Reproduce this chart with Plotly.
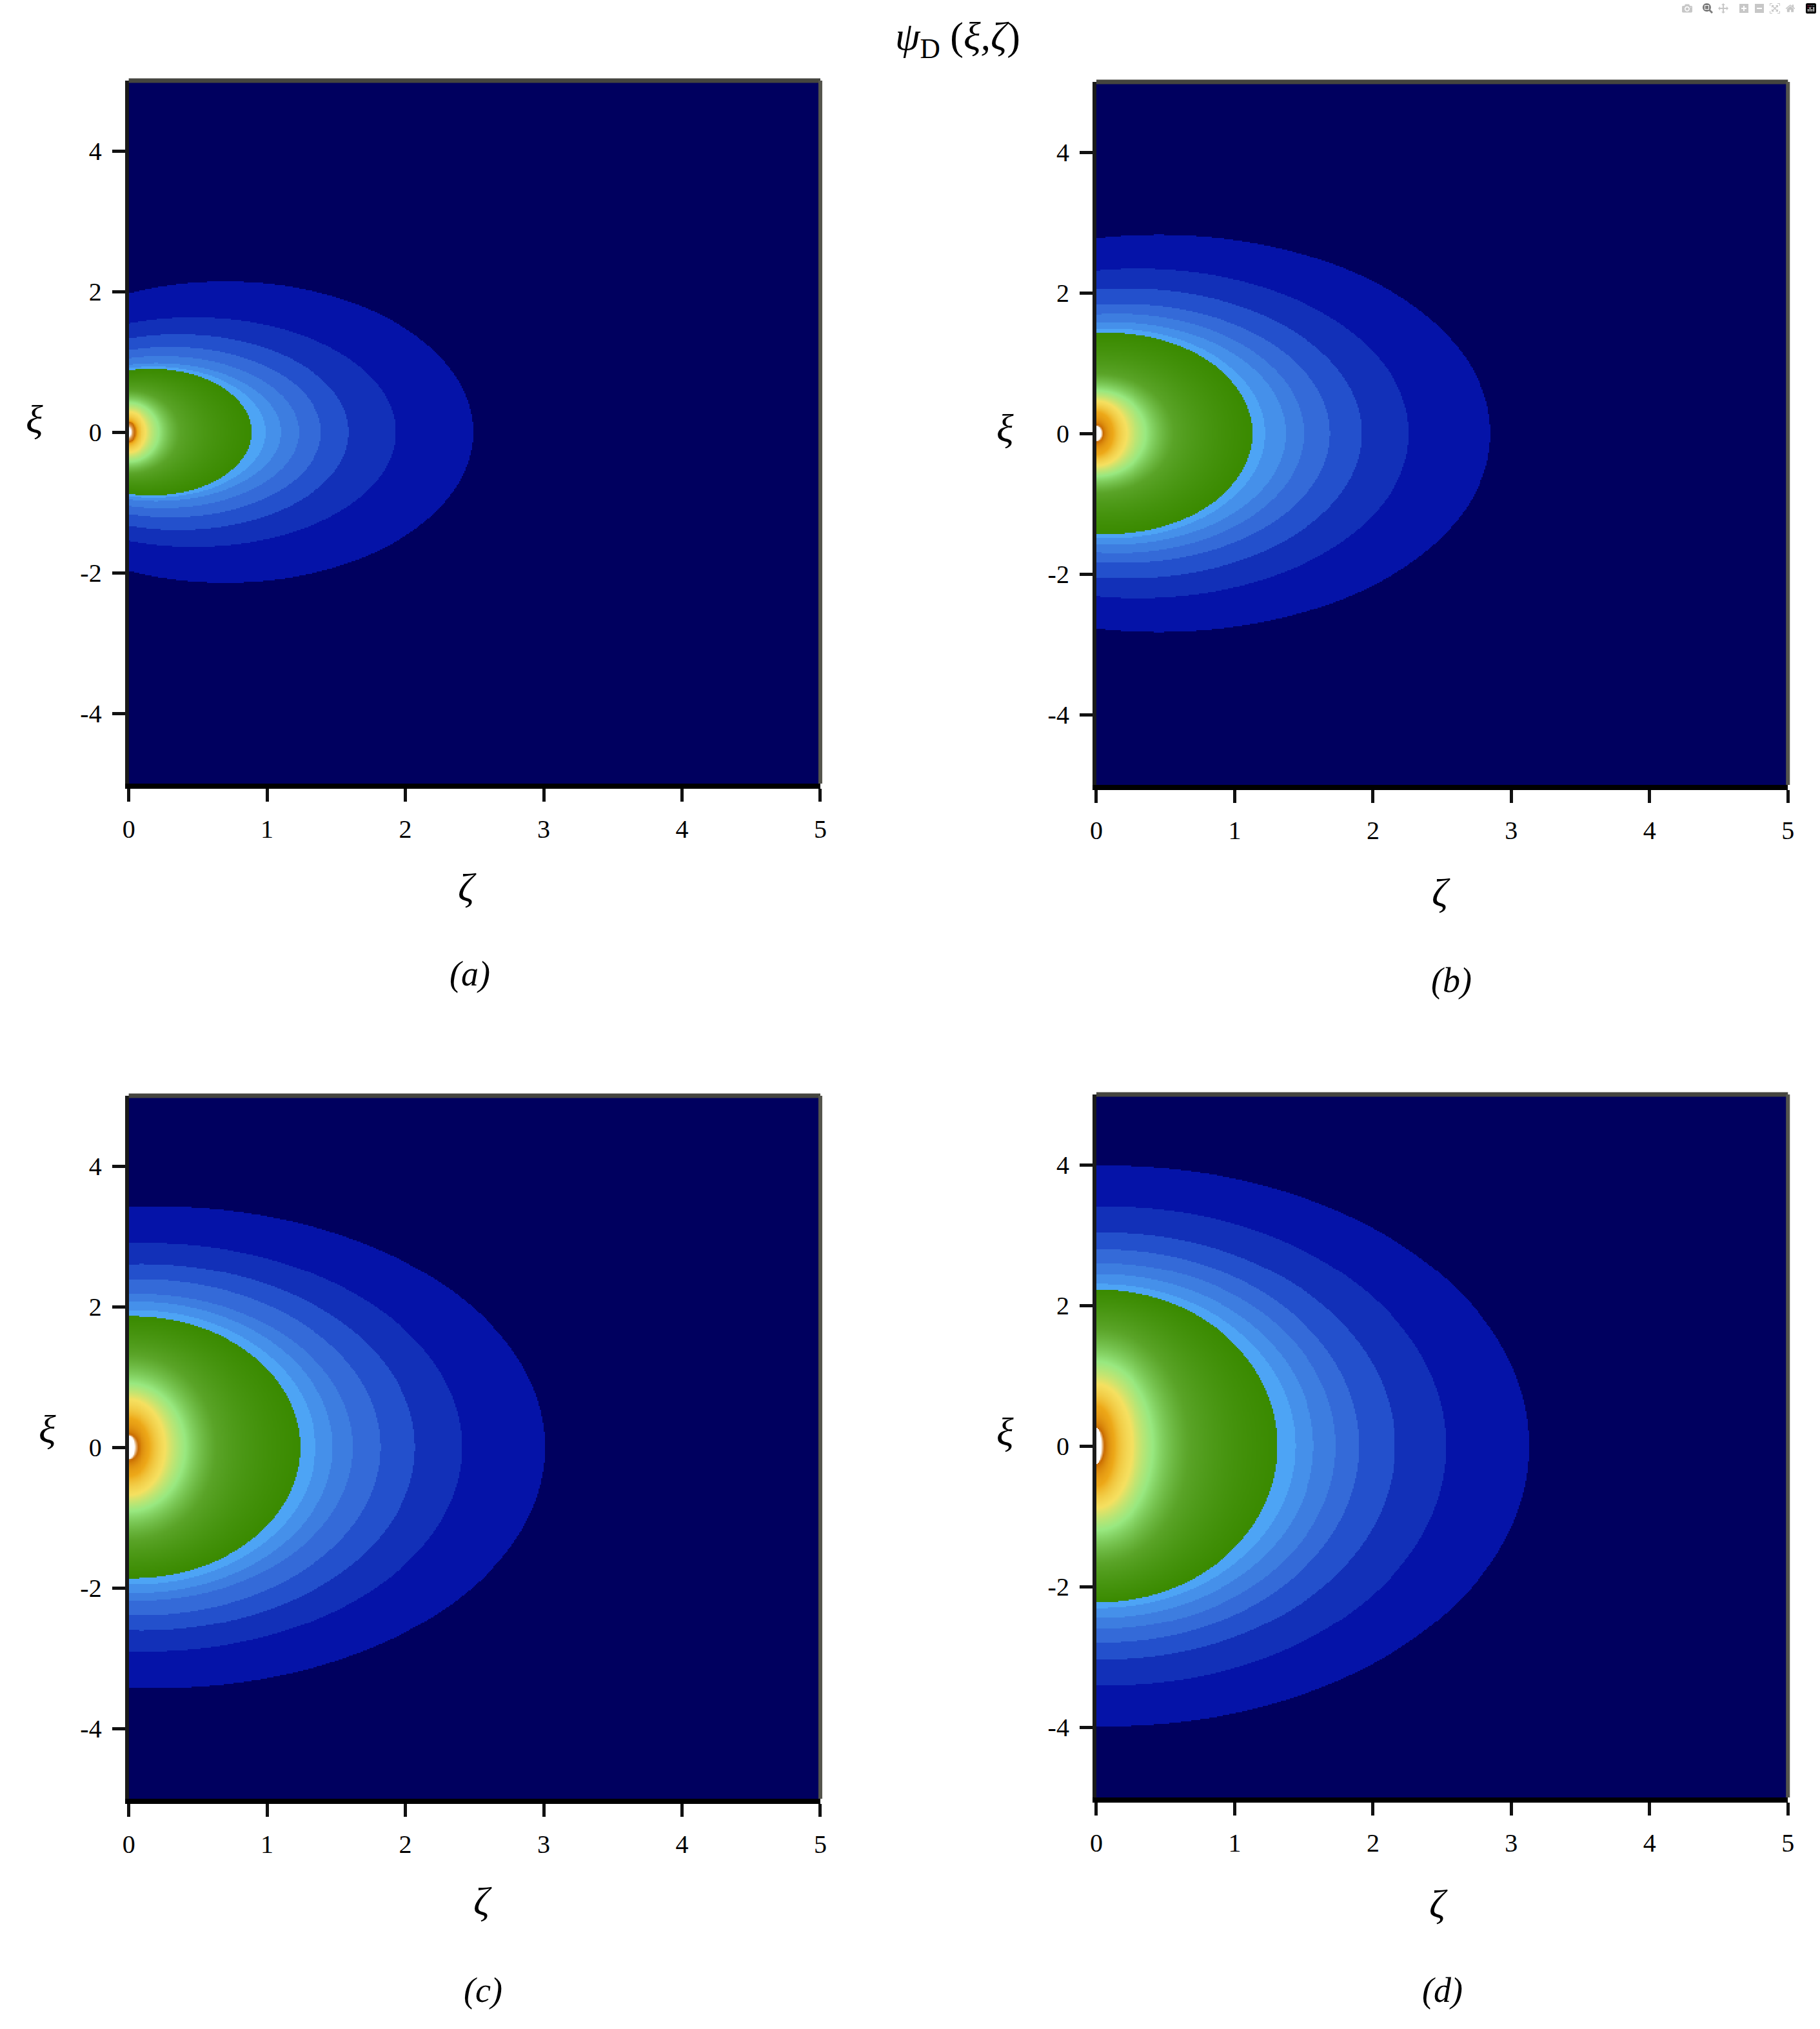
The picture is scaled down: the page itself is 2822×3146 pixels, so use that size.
import numpy as np
import plotly.graph_objects as go

W, H = 2822, 3146

# Contour outlines, outermost blue band first.
# tip = zeta where contour meets xi=0; peak = max |xi|; center = zeta of that maximum.
a_tip = [2.49, 1.93, 1.59, 1.39, 1.23, 1.10, 0.99, 0.89]
a_peak = [2.14, 1.63, 1.39, 1.21, 1.08, 0.98, 0.93, 0.90]
a_center = [0.70, 0.47, 0.36, 0.30, 0.24, 0.20, 0.18, 0.16]
b_tip = [2.85, 2.26, 1.92, 1.69, 1.50, 1.37, 1.22, 1.13]
b_peak = [2.83, 2.34, 2.06, 1.84, 1.70, 1.58, 1.49, 1.43]
b_center = [0.45, 0.30, 0.22, 0.18, 0.15, 0.12, 0.10, 0.08]
c_tip = [3.01, 2.41, 2.07, 1.82, 1.62, 1.475, 1.35, 1.24]
c_peak = [3.43, 2.91, 2.61, 2.39, 2.18, 2.07, 1.95, 1.86]
c_center = [0.20, 0.12, 0.09, 0.07, 0.06, 0.05, 0.04, 0.03]
d_tip = [3.13, 2.53, 2.16, 1.90, 1.73, 1.57, 1.44, 1.31]
d_peak = [3.99, 3.41, 3.04, 2.80, 2.60, 2.44, 2.30, 2.22]
d_center = [0.08, 0.08, 0.06, 0.05, 0.05, 0.04, 0.03, 0.02]

# Inner gradient contours (mid green, light green, yellow, orange, dark orange, core)
a_inner_tip = [0.37, 0.22, 0.125, 0.06, 0.045, 0.015]
a_inner_peak = [0.59, 0.42, 0.29, 0.16, 0.14, 0.06]
b_inner_tip = [0.56, 0.36, 0.22, 0.12, 0.05, 0.035]
b_inner_peak = [0.85, 0.61, 0.46, 0.30, 0.12, 0.10]
c_inner_tip = [0.63, 0.41, 0.265, 0.15, 0.07, 0.04]
c_inner_peak = [1.32, 0.91, 0.68, 0.41, 0.18, 0.16]
d_inner_tip = [0.67, 0.41, 0.26, 0.13, 0.06, 0.035]
d_inner_peak = [1.67, 1.20, 0.88, 0.57, 0.25, 0.25]

band_colors = ["#00005f", "#0513a8", "#1230b8", "#2350cc", "#346ad8", "#3d7de0", "#4590ea", "#4da4f5"]
gradient_colors = ["#3a8a00", "#5aa428", "#98e880", "#f5e060", "#eda818", "#c86a00", "#ffffff"]

x_ticks = [0, 1, 2, 3, 4, 5]
x_labels = ["0", "1", "2", "3", "4", "5"]
y_ticks = [-4, -2, 0, 2, 4]
y_labels = ["-4", "-2", "0", "2", "4"]

panels = [
    (a_tip, a_peak, a_center, a_inner_tip, a_inner_peak, (191, 1271, 125, 1215)),
    (b_tip, b_peak, b_center, b_inner_tip, b_inner_peak, (1702, 2782, 127, 1217)),
    (c_tip, c_peak, c_center, c_inner_tip, c_inner_peak, (191, 1271, 1699, 2789)),
    (d_tip, d_peak, d_center, d_inner_tip, d_inner_peak, (1702, 2782, 1697, 2787)),
]

N_LEVEL = len(band_colors) + len(gradient_colors) - 1
scale = []
for i, col in enumerate(band_colors):
    scale += [[i / N_LEVEL, col], [(i + 1) / N_LEVEL - 1e-6, col]]
for i, col in enumerate(gradient_colors):
    scale.append([(len(band_colors) + i) / N_LEVEL, col])

zeta = np.linspace(0, 5, 541)
zeta = (zeta[:-1] + zeta[1:]) / 2
xi = np.linspace(-5, 5, 547)
xi = (xi[:-1] + xi[1:]) / 2


def field(tip, peak, center, inner_tip, inner_peak):
    tips = np.array(list(tip) + list(inner_tip), float)
    peaks = np.array(list(peak) + list(inner_peak), float)
    cents = np.array(list(center) + [0.0] * len(inner_tip), float)
    Z, X = np.meshgrid(zeta, xi)
    s = np.stack([np.hypot((Z - c) / (t - c), X / p) for t, p, c in zip(tips, peaks, cents)])
    n = (s < 1).sum(axis=0)
    out = n + 0.5
    nb = len(band_colors)
    rows, cols = np.nonzero(n >= nb)
    for r, k in zip(rows, cols):
        m = n[r, k]
        if m >= len(tips):
            out[r, k] = N_LEVEL
        else:
            lo, hi = s[m - 1, r, k], s[m, r, k]
            out[r, k] = m + (1 - lo) / (hi - lo)
    return out.astype("float32")


fig = go.Figure()
layout = {}
TICKFONT = dict(family="Liberation Serif", size=40, color="black")
shapes = []
for i, (tip, peak, center, itip, ipeak, box) in enumerate(panels):
    sfx = "" if i == 0 else str(i + 1)
    x0, x1, y0, y1 = box
    fig.add_trace(go.Heatmap(x=zeta, y=xi, z=field(tip, peak, center, itip, ipeak),
                             zmin=0, zmax=N_LEVEL, colorscale=scale, showscale=False,
                             xaxis="x" + sfx, yaxis="y" + sfx, hoverinfo="skip"))
    layout["xaxis" + sfx] = dict(domain=[x0 / W, x1 / W], range=[0, 5], anchor="y" + sfx,
                                 tickvals=x_ticks, ticktext=x_labels, ticks="outside", ticklen=20,
                                 tickwidth=5, tickcolor="#111", showline=True, linecolor="black",
                                 linewidth=8, showgrid=False, zeroline=False, tickfont=TICKFONT,
                                 ticklabelstandoff=8)
    layout["yaxis" + sfx] = dict(domain=[1 - y1 / H, 1 - y0 / H], range=[-5, 5], anchor="x" + sfx,
                                 tickvals=y_ticks, ticktext=y_labels, ticks="outside", ticklen=20,
                                 tickwidth=5, tickcolor="#111", showline=True, linecolor="#1a1a1a",
                                 linewidth=6, showgrid=False, zeroline=False, tickfont=TICKFONT,
                                 ticklabelstandoff=8)
    xd, yd = "x" + sfx + " domain", "y" + sfx + " domain"
    shapes.append(dict(type="line", xref=xd, yref=yd, x0=0, x1=1, y0=1, y1=1,
                       line=dict(color="#45453f", width=7)))
    shapes.append(dict(type="line", xref=xd, yref=yd, x0=1, x1=1, y0=0, y1=1,
                       line=dict(color="#55554d", width=6)))


def label(text, px, py, size, family="Liberation Serif"):
    return dict(text=text, x=px / W, y=1 - py / H, xref="paper", yref="paper",
                xanchor="center", yanchor="middle", showarrow=False,
                font=dict(family=family, size=size, color="black"))


annotations = [label("<i>ψ</i><sub>D</sub> (<i>ξ,ζ</i>)", 1486, 60, 62)]
annotations += [label("<i>ζ</i>", px, py, 62) for px, py in [(720, 1376), (2240, 1384), (744, 2948), (2236, 2952)]]
annotations += [label("<i>ξ</i>", px, py, 62) for px, py in [(44, 650), (1560, 664), (64, 2216), (1560, 2220)]]
annotations += [label("<i>(%s)</i>" % t, px, py, 54) for t, px, py in
                [("a", 724, 1510), ("b", 2256, 1520), ("c", 744, 3086), ("d", 2242, 3086)]]

fig.update_layout(width=W, height=H, margin=dict(l=0, r=0, t=0, b=0), paper_bgcolor="white",
                  plot_bgcolor="white", showlegend=False, shapes=shapes, annotations=annotations, **layout)
fig.write_html("out.html", post_script="document.body.style.margin='0';")
